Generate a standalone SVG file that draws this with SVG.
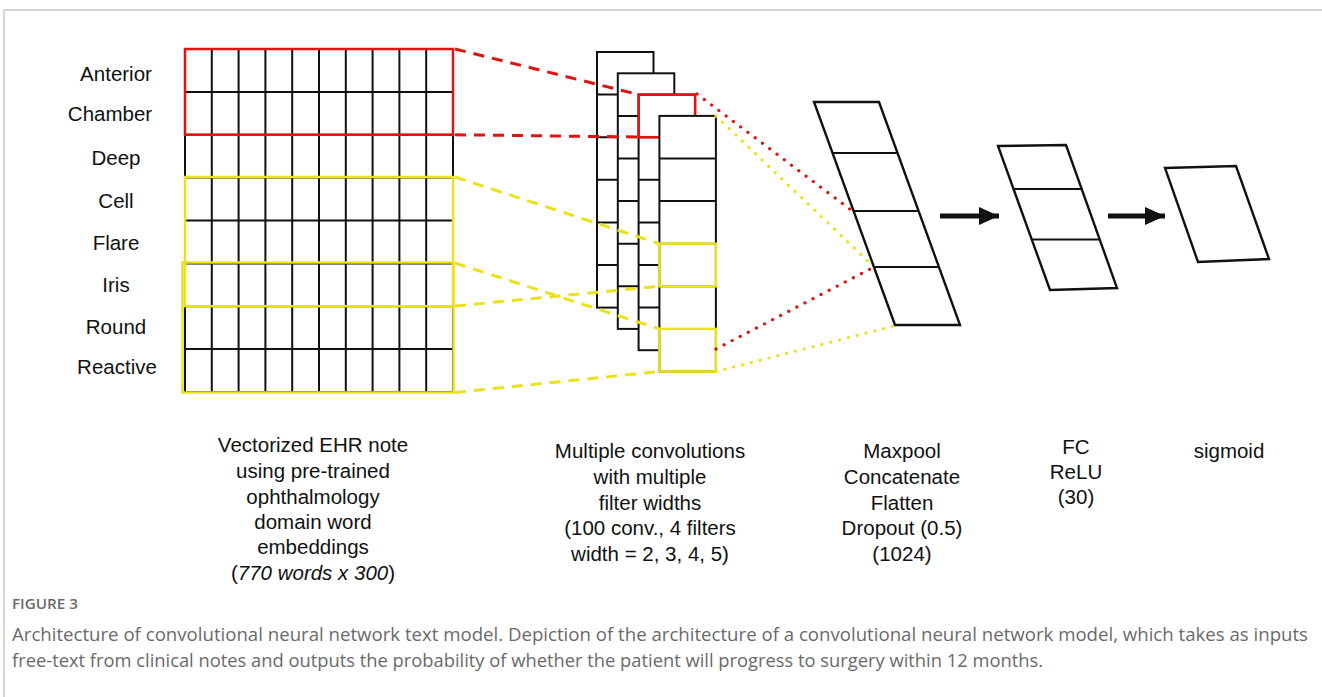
<svg xmlns="http://www.w3.org/2000/svg" width="1322" height="697" viewBox="0 0 1322 697">
<style>
  .lbl { font-family: "Liberation Sans", Arial, sans-serif; font-size: 20.5px; fill: #111; text-anchor: middle; }
  .g { stroke: #111; stroke-width: 2; fill: none; }
  .cell { stroke: #111; stroke-width: 2; fill: #fff; }
  .shape { stroke: #111; stroke-width: 2.4; fill: #fff; stroke-linejoin: miter; }
  .red { stroke: #e2120f; stroke-width: 2.5; fill: none; }
  .yel { stroke: #ebe21a; stroke-width: 2.5; fill: none; }
  .rdash { stroke: #e2120f; stroke-width: 3; stroke-dasharray: 11 8; fill: none; }
  .ydash { stroke: #ebe21a; stroke-width: 3; stroke-dasharray: 11 8; fill: none; }
  .rdot { stroke: #e2120f; stroke-width: 3.2; stroke-dasharray: 0.1 9; stroke-linecap: round; fill: none; }
  .ydot { stroke: #ebe21a; stroke-width: 3.2; stroke-dasharray: 0.1 9; stroke-linecap: round; fill: none; }
  .cap { font-family: "Open Sans", "Noto Sans", sans-serif; fill: #6a6a6a; }
</style>
<defs>
  <marker id="arrow" viewBox="0 0 20 18" refX="20" refY="9" markerWidth="20" markerHeight="18" markerUnits="userSpaceOnUse" orient="auto">
    <path d="M0,0 L20,9 L0,18 Z" fill="#111"/>
  </marker>
</defs>
<rect width="1322" height="697" fill="#fff"/>
<path d="M4,697 V10 H1322" stroke="#c4c4c4" stroke-width="1.3" fill="none"/>

<g id="node-input">
  <g class="g">
    <rect x="185" y="49" width="268" height="343"/>
    <path d="M211.8,49V392 M238.6,49V392 M265.4,49V392 M292.2,49V392 M319,49V392 M345.8,49V392 M372.6,49V392 M399.4,49V392 M426.2,49V392"/>
    <path d="M185,91.9H453 M185,134.75H453 M185,177.6H453 M185,220.5H453 M185,263.4H453 M185,306.25H453 M185,349.1H453"/>
  </g>
  <rect class="red" x="185" y="49" width="268" height="85.75"/>
  <rect class="yel" x="185" y="177" width="268" height="129.2"/>
  <rect class="yel" x="182.5" y="262.5" width="271" height="130"/>
  <text class="lbl" x="116" y="81">Anterior</text>
  <text class="lbl" x="110" y="121">Chamber</text>
  <text class="lbl" x="116" y="165">Deep</text>
  <text class="lbl" x="116" y="208">Cell</text>
  <text class="lbl" x="116" y="250">Flare</text>
  <text class="lbl" x="116" y="292">Iris</text>
  <text class="lbl" x="116" y="334">Round</text>
  <text class="lbl" x="117" y="374">Reactive</text>
  <text class="lbl" x="313" y="452">Vectorized EHR note</text>
  <text class="lbl" x="313" y="478">using pre-trained</text>
  <text class="lbl" x="313" y="504">ophthalmology</text>
  <text class="lbl" x="313" y="529">domain word</text>
  <text class="lbl" x="313" y="554">embeddings</text>
  <text class="lbl" x="313" y="580">(<tspan font-style="italic">770 words x 300</tspan>)</text>
</g>

<g id="node-conv">
  <g class="cell">
    <rect x="597" y="52" width="56.5" height="255.6"/>
    <path d="M597,94.6H653.5 M597,137.2H653.5 M597,179.8H653.5 M597,222.4H653.5 M597,265H653.5"/>
  </g>
  <g class="cell">
    <rect x="617.8" y="73.3" width="56.5" height="255.6"/>
    <path d="M617.8,115.9H674.3 M617.8,158.5H674.3 M617.8,201.1H674.3 M617.8,243.7H674.3 M617.8,286.3H674.3"/>
  </g>
  <g class="cell">
    <rect x="638.6" y="94.6" width="56.5" height="255.6"/>
    <path d="M638.6,137.2H695.1 M638.6,179.8H695.1 M638.6,222.4H695.1 M638.6,265H695.1 M638.6,307.6H695.1"/>
    <rect class="red" x="638.6" y="94.6" width="56.5" height="42.6"/>
  </g>
  <g class="cell">
    <rect x="659.4" y="115.9" width="56.5" height="255.6"/>
    <path d="M659.4,158.5H715.9 M659.4,201.1H715.9 M659.4,243.7H715.9 M659.4,286.3H715.9 M659.4,328.9H715.9"/>
    <rect class="yel" x="659.4" y="243.7" width="56.5" height="42.6"/>
    <rect class="yel" x="659.4" y="328.9" width="56.5" height="42.6"/>
  </g>
  <text class="lbl" x="650" y="458">Multiple convolutions</text>
  <text class="lbl" x="650" y="484">with multiple</text>
  <text class="lbl" x="650" y="510">filter widths</text>
  <text class="lbl" x="650" y="535">(100 conv., 4 filters</text>
  <text class="lbl" x="650" y="561">width = 2, 3, 4, 5)</text>
</g>

<g id="node-maxpool">
  <polygon class="shape" points="814,102 879,102 960,325 895,325"/>
  <path class="g" d="M832.5,153H897.5 M853.6,211H918.6 M874,267H939" stroke-width="2.4"/>
  <text class="lbl" x="902" y="458">Maxpool</text>
  <text class="lbl" x="902" y="484">Concatenate</text>
  <text class="lbl" x="902" y="510">Flatten</text>
  <text class="lbl" x="902" y="535">Dropout (0.5)</text>
  <text class="lbl" x="902" y="561">(1024)</text>
</g>

<g id="node-fc">
  <polygon class="shape" points="998,146 1066,145 1117,288 1050,290"/>
  <path class="g" d="M1013.5,189H1081.5 M1032.5,239.5H1099.5" stroke-width="2.4"/>
  <text class="lbl" x="1076" y="454">FC</text>
  <text class="lbl" x="1076" y="479">ReLU</text>
  <text class="lbl" x="1076" y="504">(30)</text>
</g>

<g id="node-sigmoid">
  <polygon class="shape" points="1165,168 1236,166 1269,259 1198,262"/>
  <text class="lbl" x="1229" y="458">sigmoid</text>
</g>

<g id="connectors">
  <path class="rdash" d="M455,49 L638.6,94.6"/>
  <path class="rdash" d="M455,134.75 L638.6,137"/>
  <path class="ydash" d="M455,177 L659.4,243.7"/>
  <path class="ydash" d="M455,306 L659.4,286.3"/>
  <path class="ydash" d="M455,263 L659.4,328.9"/>
  <path class="ydash" d="M455,392.5 L659.4,371.5"/>
  <path class="rdot" d="M697,94 L851,210"/>
  <path class="ydot" d="M716,116 L872,265"/>
  <path class="rdot" d="M716,349 L874,267"/>
  <path class="ydot" d="M716,371.5 L894,326"/>
  <path d="M940,216 H999" stroke="#111" stroke-width="5" marker-end="url(#arrow)"/>
  <path d="M1108,216 H1165" stroke="#111" stroke-width="5" marker-end="url(#arrow)"/>
</g>

<g id="caption">
  <text class="cap" x="12" y="609" font-size="14" font-weight="600" fill="#777" textLength="66" lengthAdjust="spacingAndGlyphs">FIGURE 3</text>
  <text class="cap" x="12" y="641" font-size="17.5" textLength="1296" lengthAdjust="spacingAndGlyphs">Architecture of convolutional neural network text model. Depiction of the architecture of a convolutional neural network model, which takes as inputs</text>
  <text class="cap" x="12" y="667" font-size="17.5" textLength="1031" lengthAdjust="spacingAndGlyphs">free-text from clinical notes and outputs the probability of whether the patient will progress to surgery within 12 months.</text>
</g>
</svg>
